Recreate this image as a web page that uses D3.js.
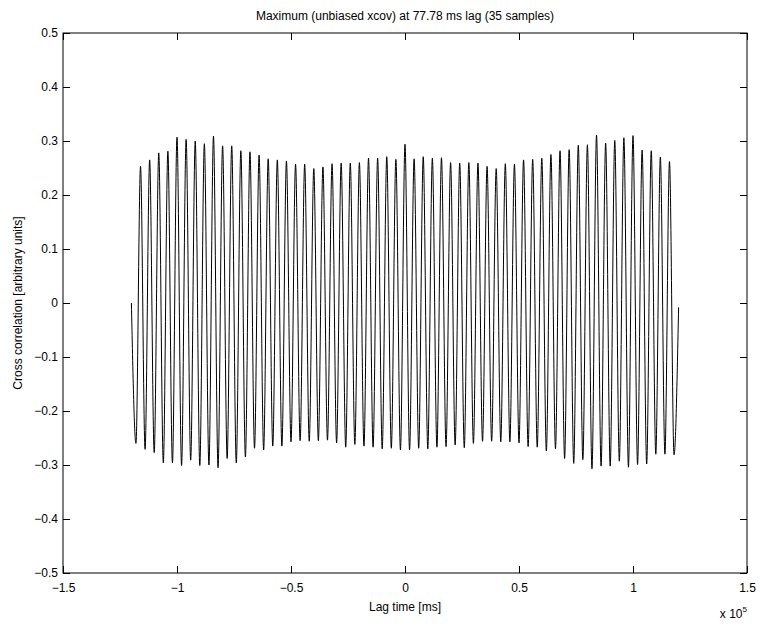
<!DOCTYPE html>
<html>
<head>
<meta charset="utf-8">
<script src="https://cdn.jsdelivr.net/npm/d3@7"></script>
<style>
  body { margin: 0; background: #fff; }
  svg text { font-family: "Liberation Sans", Arial, sans-serif; fill: #000; }
</style>
</head>
<body>
<svg id="chart" width="760" height="626"></svg>
<script>
// local extrema of the xcov curve (left to right)
const troughs = [
  -0.260, -0.271, -0.277, -0.296, -0.296, -0.301, -0.291, -0.301, -0.300, -0.305,
  -0.288, -0.296, -0.285, -0.269, -0.272, -0.265, -0.265, -0.257, -0.255, -0.256,
  -0.255, -0.254, -0.259, -0.267, -0.262, -0.265, -0.267, -0.270, -0.269, -0.272,
  -0.272, -0.269, -0.270, -0.267, -0.266, -0.263, -0.268, -0.260, -0.256, -0.256,
  -0.257, -0.257, -0.259, -0.266, -0.267, -0.274, -0.270, -0.288, -0.297, -0.290,
  -0.307, -0.302, -0.302, -0.293, -0.304, -0.299, -0.298, -0.280, -0.280, -0.281
];
const peaks = [
  0.253, 0.265, 0.278, 0.281, 0.307, 0.303, 0.300, 0.295, 0.309, 0.291,
  0.291, 0.282, 0.280, 0.274, 0.267, 0.265, 0.263, 0.257, 0.257, 0.249,
  0.252, 0.258, 0.259, 0.259, 0.260, 0.268, 0.268, 0.271, 0.266, 0.294,
  0.267, 0.271, 0.268, 0.269, 0.260, 0.259, 0.260, 0.259, 0.253, 0.249,
  0.258, 0.257, 0.265, 0.266, 0.268, 0.275, 0.282, 0.284, 0.292, 0.293,
  0.311, 0.296, 0.301, 0.306, 0.310, 0.283, 0.282, 0.270, 0.262
];
const startValue = 0.0;
const endValue = -0.008;
const lagMin = -1.2e5;   // ms
const lagStep = 2000;    // ms between successive extrema

const xTicks = [-1.5e5, -1e5, -0.5e5, 0, 0.5e5, 1e5, 1.5e5];
const yTicks = [-0.5, -0.4, -0.3, -0.2, -0.1, 0, 0.1, 0.2, 0.3, 0.4, 0.5];

// build the series: start, T1, P1, T2, P2, ... , T60, end
const values = [startValue];
troughs.forEach((t, i) => {
  values.push(t);
  if (i < peaks.length) values.push(peaks[i]);
});
values.push(endValue);
const series = values.map((v, i) => ({ lag: lagMin + i * lagStep, v: v }));

const margin = { left: 63, right: 13, top: 33, bottom: 53 };
const W = 760, H = 626;

const svg = d3.select('#chart');

const x = d3.scaleLinear().domain([-1.5e5, 1.5e5]).range([margin.left, W - margin.right]);
const y = d3.scaleLinear().domain([-0.5, 0.5]).range([H - margin.bottom, margin.top]);

const tickLen = 7;
const fmtX = d => d3.format('')(+(d / 1e5).toFixed(1)).replace('-', '\u2212');
const fmtY = d => (d === 0 ? '0' : d3.format('.1f')(d)).replace('-', '\u2212');

// axes
svg.append('g')
  .attr('transform', `translate(0,${H - margin.bottom})`)
  .call(d3.axisBottom(x).tickValues(xTicks).tickSize(-tickLen).tickPadding(10).tickFormat(fmtX))
  .call(g => g.select('.domain').remove())
  .call(g => g.selectAll('text').attr('font-size', 12));

svg.append('g')
  .attr('transform', `translate(0,${margin.top})`)
  .call(d3.axisTop(x).tickValues(xTicks).tickSize(-tickLen).tickFormat(''))
  .call(g => g.select('.domain').remove());

svg.append('g')
  .attr('transform', `translate(${margin.left},0)`)
  .call(d3.axisLeft(y).tickValues(yTicks).tickSize(-tickLen).tickPadding(5).tickFormat(fmtY))
  .call(g => g.select('.domain').remove())
  .call(g => g.selectAll('text').attr('font-size', 12));

svg.append('g')
  .attr('transform', `translate(${W - margin.right},0)`)
  .call(d3.axisRight(y).tickValues(yTicks).tickSize(-tickLen).tickFormat(''))
  .call(g => g.select('.domain').remove());

svg.selectAll('.tick line').attr('stroke', '#000');

svg.append('rect')
  .attr('x', margin.left).attr('y', margin.top)
  .attr('width', W - margin.left - margin.right)
  .attr('height', H - margin.top - margin.bottom)
  .attr('fill', 'none').attr('stroke', '#000').attr('stroke-width', 1);

// the curve (smooth between extrema, like the sampled waveform)
const line = d3.line().curve(d3.curveMonotoneX).x(d => x(d.lag)).y(d => y(d.v));
svg.append('path')
  .datum(series)
  .attr('d', line)
  .attr('fill', 'none')
  .attr('stroke', '#000')
  .attr('stroke-width', 1);

// labels
svg.append('text')
  .attr('x', (margin.left + W - margin.right) / 2).attr('y', 20)
  .attr('text-anchor', 'middle').attr('font-size', 12)
  .text('Maximum (unbiased xcov) at 77.78 ms lag (35 samples)');

svg.append('text')
  .attr('x', x(0)).attr('y', 611)
  .attr('text-anchor', 'middle').attr('font-size', 12)
  .text('Lag time [ms]');

svg.append('text')
  .attr('transform', `translate(22,${(margin.top + H - margin.bottom) / 2}) rotate(-90)`)
  .attr('text-anchor', 'middle').attr('font-size', 12)
  .text('Cross correlation [arbitrary units]');

const exp = svg.append('text')
  .attr('x', W - margin.right).attr('y', 618)
  .attr('text-anchor', 'end').attr('font-size', 12);
exp.append('tspan').text('x 10');
exp.append('tspan').attr('dy', -6).attr('font-size', 8).text('5');
</script>
</body>
</html>
